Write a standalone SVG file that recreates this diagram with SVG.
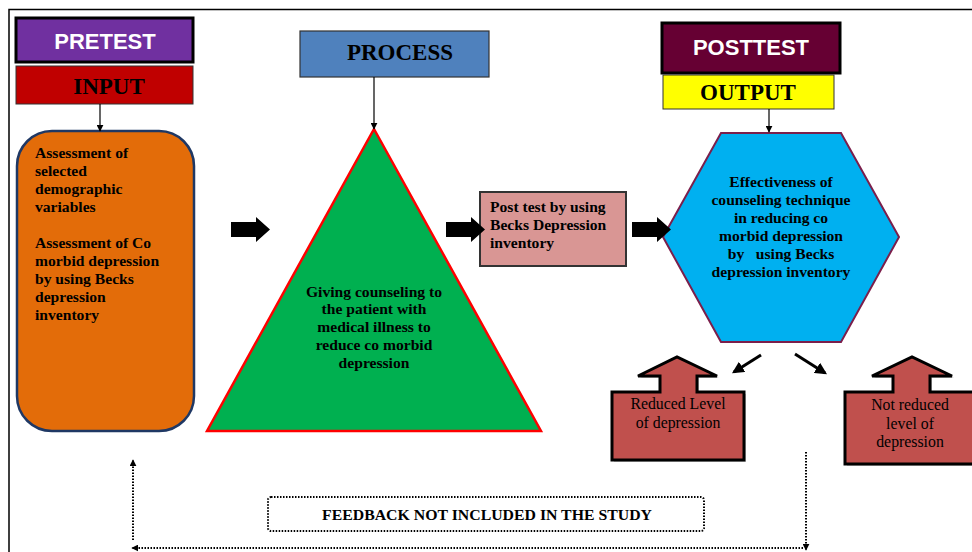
<svg xmlns="http://www.w3.org/2000/svg" width="972" height="552" viewBox="0 0 972 552">
<defs>
<marker id="ah" viewBox="0 0 10 10" refX="9" refY="5" markerWidth="7" markerHeight="7" markerUnits="userSpaceOnUse" orient="auto"><path d="M0,0 L10,5 L0,10 Z" fill="#000"/></marker>
<marker id="ahb" viewBox="0 0 10 10" refX="8" refY="5" markerWidth="4" markerHeight="4" orient="auto"><path d="M0,0 L10,5 L0,10 Z" fill="#000"/></marker>
<path id="blk" d="M0,5 H25 V0 L39,12.5 L25,25 V20 H0 Z"/>
</defs>
<style>
.sb{font-family:"Liberation Sans",Arial,sans-serif;font-weight:bold;fill:#fff}
.hd{font-family:"Liberation Serif","Times New Roman",serif;font-weight:bold;font-size:23px;fill:#000}
.bt{font-family:"Liberation Serif","Times New Roman",serif;font-weight:bold;font-size:15.6px;fill:#000}
.ft{font-family:"Liberation Serif","Times New Roman",serif;font-weight:bold;font-size:14px;fill:#000}
.rt{font-family:"Liberation Serif","Times New Roman",serif;font-size:15.8px;fill:#000}
.ln{stroke:#000;stroke-width:1.2;fill:none}
.dt{stroke:#000;stroke-width:2;stroke-dasharray:1.5 1.5;fill:none}
.call{fill:#C0504D;stroke:#000;stroke-width:3;stroke-linejoin:miter}
</style>
<rect width="972" height="552" fill="#fff"/>
<path d="M9,552 V9.5 H972" stroke="#000" stroke-width="1.5" fill="none"/>

<g id="pretest">
<rect x="16" y="18" width="177" height="44" fill="#7030A0" stroke="#000" stroke-width="3"/>
<text class="sb" x="105" y="49" font-size="22" text-anchor="middle">PRETEST</text>
</g>
<g id="input">
<rect x="16" y="66" width="177" height="38" fill="#C00000" stroke="#333" stroke-width="1"/>
<text class="hd" x="109" y="94" text-anchor="middle">INPUT</text>
</g>
<g id="assessment">
<rect x="17" y="131" width="177" height="300" rx="35" fill="#E36C09" stroke="#1F3864" stroke-width="2.5"/>
<text class="bt" x="35"><tspan x="35" y="158">Assessment of</tspan><tspan x="35" y="176">selected</tspan><tspan x="35" y="194">demographic</tspan><tspan x="35" y="212">variables</tspan><tspan x="35" y="248">Assessment of Co</tspan><tspan x="35" y="266">morbid depression</tspan><tspan x="35" y="284">by using Becks</tspan><tspan x="35" y="302">depression</tspan><tspan x="35" y="320">inventory</tspan></text>
</g>
<g id="process">
<rect x="300" y="31" width="189" height="46" fill="#4F81BD" stroke="#333" stroke-width="1.2"/>
<text class="hd" x="400" y="60" text-anchor="middle">PROCESS</text>
</g>
<g id="counseling">
<path d="M374,129 L541,431 L207,431 Z" fill="#00B050" stroke="#FF0000" stroke-width="2.5" stroke-linejoin="miter"/>
<text class="bt" text-anchor="middle"><tspan x="374" y="297">Giving counseling to</tspan><tspan x="374" y="314">the patient with</tspan><tspan x="374" y="332">medical illness to</tspan><tspan x="374" y="350">reduce co morbid</tspan><tspan x="374" y="368">depression</tspan></text>
</g>
<g id="posttest-box">
<rect x="480" y="192" width="146" height="74" fill="#D99694" stroke="#333" stroke-width="2"/>
<text class="bt"><tspan x="490" y="212">Post test by using</tspan><tspan x="490" y="230">Becks Depression</tspan><tspan x="490" y="248">inventory</tspan></text>
</g>
<g id="posttest">
<rect x="662" y="23" width="178" height="50" fill="#660033" stroke="#000" stroke-width="3"/>
<text class="sb" x="751" y="55" font-size="22" text-anchor="middle">POSTTEST</text>
</g>
<g id="output">
<rect x="663" y="75" width="171" height="34" fill="#FFFF00" stroke="#333" stroke-width="1"/>
<text class="hd" x="748" y="100" text-anchor="middle">OUTPUT</text>
</g>
<g id="effectiveness">
<path d="M721,133 H841 L899,237 L841,342 H721 L663,237 Z" fill="#00B0F0" stroke="#7B1F4B" stroke-width="2"/>
<text class="bt" text-anchor="middle"><tspan x="781" y="187">Effectiveness of</tspan><tspan x="781" y="205">counseling technique</tspan><tspan x="781" y="223">in reducing co</tspan><tspan x="781" y="241">morbid depression</tspan><tspan x="781" y="259" xml:space="preserve">by   using Becks</tspan><tspan x="781" y="277">depression inventory</tspan></text>
</g>
<g id="reduced">
<path d="M614,394 H662 V378 H640 L679,359 L719,378 H699 V394 H746 V462 H614 Z" fill="#999" opacity="0.5"/>
<path class="call" d="M612,392 H660 V376 H638 L677,357 L717,376 H697 V392 H744 V460 H612 Z"/>
<text class="rt" text-anchor="middle"><tspan x="678" y="409">Reduced Level</tspan><tspan x="678" y="428">of depression</tspan></text>
</g>
<g id="not-reduced">
<path d="M847,394 H895 V378 H874 L914,359 L954,378 H932 V394 H980 V466 H847 Z" fill="#999" opacity="0.5"/>
<path class="call" d="M845,392 H893 V376 H872 L912,357 L952,376 H930 V392 H980 V464 H845 Z"/>
<text class="rt" text-anchor="middle"><tspan x="910" y="410">Not reduced</tspan><tspan x="910" y="429">level of</tspan><tspan x="910" y="447">depression</tspan></text>
</g>
<g id="feedback">
<rect x="268" y="497" width="436" height="34" rx="3" class="dt"/>
<text class="ft" x="487" y="520" text-anchor="middle" textLength="330" lengthAdjust="spacingAndGlyphs">FEEDBACK NOT INCLUDED IN THE STUDY</text>
</g>

<g id="connectors">
<line class="ln" x1="100" y1="104" x2="100" y2="131" marker-end="url(#ah)"/>
<line class="ln" x1="374" y1="77" x2="374" y2="129" marker-end="url(#ah)"/>
<line class="ln" x1="769" y1="109" x2="769" y2="132" marker-end="url(#ah)"/>
<use href="#blk" x="231" y="217"/>
<use href="#blk" x="446" y="217"/>
<use href="#blk" x="632" y="217"/>
<line x1="761" y1="355" x2="734" y2="372" stroke="#000" stroke-width="3" marker-end="url(#ahb)"/>
<line x1="795" y1="354" x2="825" y2="373" stroke="#000" stroke-width="3" marker-end="url(#ahb)"/>
<line class="dt" x1="133" y1="540" x2="133" y2="460" marker-end="url(#ah)"/>
<line class="dt" x1="806" y1="452" x2="806" y2="550" marker-end="url(#ah)"/>
<line class="dt" x1="803" y1="548" x2="132" y2="548" marker-end="url(#ah)"/>
</g>
</svg>
